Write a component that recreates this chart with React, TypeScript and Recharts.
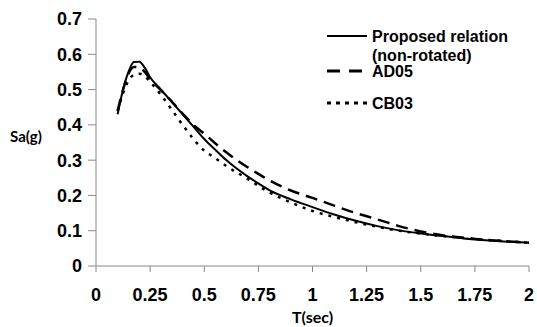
import React from 'react';
import { LineChart, Line, XAxis, YAxis, Legend } from 'recharts';

// Period T (sec) and spectral acceleration values
const periods = [0.1, 0.125, 0.15, 0.175, 0.2, 0.225, 0.25, 0.3, 0.35, 0.4, 0.45, 0.5, 0.55, 0.6, 0.7, 0.75, 0.8, 0.9, 1.0, 1.1, 1.2, 1.3, 1.4, 1.5, 1.6, 1.7, 1.8, 1.9, 2.0];
const proposed = [0.43, 0.5, 0.55, 0.578, 0.579, 0.562, 0.535, 0.5, 0.465, 0.43, 0.395, 0.36, 0.33, 0.301, 0.254, 0.234, 0.215, 0.189, 0.167, 0.146, 0.128, 0.113, 0.101, 0.092, 0.085, 0.078, 0.073, 0.069, 0.066];
const ad05 = [0.44, 0.5, 0.545, 0.564, 0.563, 0.55, 0.53, 0.498, 0.466, 0.432, 0.4, 0.375, 0.348, 0.323, 0.28, 0.261, 0.243, 0.214, 0.193, 0.171, 0.15, 0.132, 0.113, 0.098, 0.087, 0.08, 0.074, 0.07, 0.066];
const cb03 = [0.44, 0.49, 0.525, 0.542, 0.545, 0.538, 0.522, 0.485, 0.443, 0.4, 0.36, 0.327, 0.306, 0.284, 0.247, 0.227, 0.209, 0.18, 0.156, 0.139, 0.124, 0.111, 0.1, 0.092, 0.085, 0.079, 0.074, 0.07, 0.066];

const xTicks = [0, 0.25, 0.5, 0.75, 1, 1.25, 1.5, 1.75, 2];
const yTicks = [0, 0.1, 0.2, 0.3, 0.4, 0.5, 0.6, 0.7];

const data = periods.map((t, i) => ({ t, proposed: proposed[i], ad05: ad05[i], cb03: cb03[i] }));

const AXIS = '#888888';
const TICK_FONT = { fontFamily: '"Liberation Sans", Arial, sans-serif', fontWeight: 700, fontSize: 18, fill: '#000' };

const LegendBox = () => (
  <svg width={537} height={120} style={{ display: 'block' }}>
    <g fontFamily='"Liberation Sans", Arial, sans-serif' fontWeight={700} fontSize={16} fill="#000">
      {/* Proposed relation */}
      <line x1={327} x2={367} y1={36} y2={36} stroke="#000" strokeWidth={2} />
      <text x={372} y={36} dominantBaseline="central">Proposed relation</text>
      <text x={372} y={55} dominantBaseline="central">(non-rotated)</text>
      {/* AD05 */}
      <line x1={327} x2={367} y1={71} y2={71} stroke="#000" strokeWidth={3} strokeDasharray="13 9" />
      <text x={372} y={71} dominantBaseline="central">AD05</text>
      {/* CB03 */}
      <line x1={327} x2={368} y1={103} y2={103} stroke="#000" strokeWidth={3} strokeDasharray="4 5" />
      <text x={372} y={103} dominantBaseline="central">CB03</text>
    </g>
  </svg>
);

export default function App() {
  return (
    <div style={{ position: 'absolute', left: 0, top: 0, width: 537, height: 327, background: '#fff' }}>
      <LineChart width={537} height={327} data={data} margin={{ top: 19, right: 8, bottom: 0, left: 0 }}>
        <XAxis
          dataKey="t"
          type="number"
          domain={[0, 2]}
          ticks={xTicks}
          height={61}
          stroke={AXIS}
          tickSize={6}
          tickMargin={16}
          tick={TICK_FONT}
          interval={0}
          label={{
            value: 'T(sec)',
            position: 'insideBottom',
            offset: 4,
            style: { fontFamily: 'Lato, sans-serif', fontWeight: 700, fontSize: 16, fill: '#000' },
          }}
        />
        <YAxis
          type="number"
          domain={[0, 0.7]}
          ticks={yTicks}
          width={96}
          stroke={AXIS}
          tickSize={8}
          tickMargin={6}
          tick={TICK_FONT}
          interval={0}
          label={{
            value: 'Sa(g)',
            position: 'insideLeft',
            offset: 10,
            dy: -6,
            style: { fontFamily: 'Lato, sans-serif', fontWeight: 700, fontSize: 15, fill: '#000' },
          }}
        />
        <Legend
          layout="vertical"
          align="center"
          verticalAlign="middle"
          wrapperStyle={{ left: 0, top: 0, width: 537 }}
          content={() => <LegendBox />}
        />
        <Line type="monotone" dataKey="proposed" name="Proposed relation (non-rotated)" stroke="#000" strokeWidth={2} dot={false} isAnimationActive={false} />
        <Line type="monotone" dataKey="ad05" name="AD05" stroke="#000" strokeWidth={2.5} strokeDasharray="12 7" dot={false} isAnimationActive={false} />
        <Line type="monotone" dataKey="cb03" name="CB03" stroke="#000" strokeWidth={2.5} strokeDasharray="3 6" dot={false} isAnimationActive={false} />
      </LineChart>
    </div>
  );
}
